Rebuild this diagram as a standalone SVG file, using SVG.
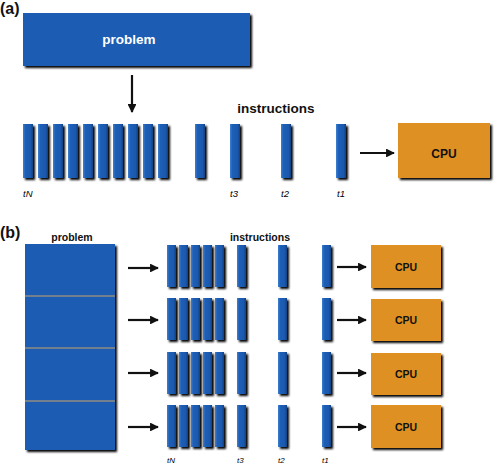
<svg xmlns="http://www.w3.org/2000/svg" width="498" height="465" viewBox="0 0 498 465">
<defs>
<filter id="sh" x="-20%" y="-20%" width="160%" height="160%">
<feGaussianBlur in="SourceAlpha" stdDeviation="1"/>
<feOffset dx="2" dy="2" result="o"/>
<feComponentTransfer><feFuncA type="linear" slope="1"/></feComponentTransfer>
<feMerge><feMergeNode/><feMergeNode in="SourceGraphic"/></feMerge>
</filter>
<linearGradient id="bar" x1="0" y1="0" x2="1" y2="0">
<stop offset="0" stop-color="#3f7fd0"/>
<stop offset="0.25" stop-color="#1f5fb6"/>
<stop offset="0.75" stop-color="#1b58ad"/>
<stop offset="1" stop-color="#10407f"/>
</linearGradient>
<marker id="ah" viewBox="0 0 10 10" refX="9" refY="5" markerWidth="4" markerHeight="4" orient="auto" markerUnits="strokeWidth">
<path d="M0,0 L10,5 L0,10 z" fill="#111"/>
</marker>
<g id="barA"><rect width="10" height="54" fill="url(#bar)" filter="url(#sh)"/></g>
<g id="barB"><rect width="9" height="42" fill="url(#bar)" filter="url(#sh)"/></g>
<g id="barsB">
<use href="#barB" x="167"/><use href="#barB" x="179"/><use href="#barB" x="191"/><use href="#barB" x="203"/><use href="#barB" x="215"/>
<use href="#barB" x="237"/><use href="#barB" x="278"/><use href="#barB" x="322"/>
</g>
</defs>
<style>
.blue{fill:#1d5db3}
.cpu{fill:#de9022}
.lbl{font-family:"Liberation Sans",Arial,sans-serif;font-weight:bold;text-anchor:middle}
.w{fill:#fff}
.k{fill:#111}
.t{font-family:"Liberation Sans",Arial,sans-serif;font-style:italic;fill:#000}
.arr{stroke:#111;stroke-width:2.2;fill:none;marker-end:url(#ah)}
</style>
<rect width="498" height="465" fill="#fff"/>

<text x="0" y="14" class="lbl k" style="text-anchor:start" font-size="16">(a)</text>
<text x="0" y="238" class="lbl k" style="text-anchor:start" font-size="16">(b)</text>

<g id="problemA">
<rect x="23" y="13" width="227" height="53" class="blue" filter="url(#sh)"/>
<text x="129" y="44" class="lbl w" font-size="13.5">problem</text>
</g>

<g id="instructionsA">
<text x="276" y="113" class="lbl k" font-size="13.5">instructions</text>
<use href="#barA" x="23" y="124"/><use href="#barA" x="38" y="124"/><use href="#barA" x="53" y="124"/><use href="#barA" x="68" y="124"/><use href="#barA" x="83" y="124"/>
<use href="#barA" x="98" y="124"/><use href="#barA" x="113" y="124"/><use href="#barA" x="128" y="124"/><use href="#barA" x="143" y="124"/><use href="#barA" x="158" y="124"/>
<use href="#barA" x="195" y="124"/><use href="#barA" x="230" y="124"/><use href="#barA" x="281" y="124"/><use href="#barA" x="336" y="124"/>
<text x="23" y="197" class="t" font-size="9.5">tN</text>
<text x="230" y="197" class="t" font-size="9.5">t3</text>
<text x="281" y="197" class="t" font-size="9.5">t2</text>
<text x="337" y="197" class="t" font-size="9.5">t1</text>
</g>

<g id="cpuA">
<rect x="398" y="123" width="92" height="55" class="cpu" filter="url(#sh)"/>
<text x="444" y="158" class="lbl k" font-size="12">CPU</text>
</g>

<g id="problemB">
<rect x="25" y="244" width="90" height="206" class="blue" filter="url(#sh)"/>
<line x1="25" y1="296" x2="115" y2="296" stroke="#c9a36a" stroke-width="1"/>
<line x1="25" y1="348" x2="115" y2="348" stroke="#c9a36a" stroke-width="1"/>
<line x1="25" y1="401" x2="115" y2="401" stroke="#c9a36a" stroke-width="1"/>
<text x="72" y="241" class="lbl k" font-size="10.5">problem</text>
</g>

<g id="instructionsB">
<text x="260" y="241" class="lbl k" font-size="10.5">instructions</text>
<use href="#barsB" y="245"/>
<use href="#barsB" y="298"/>
<use href="#barsB" y="352"/>
<use href="#barsB" y="405"/>
<text x="167" y="463" class="t" font-size="8">tN</text>
<text x="237" y="463" class="t" font-size="8">t3</text>
<text x="278" y="463" class="t" font-size="8">t2</text>
<text x="322" y="463" class="t" font-size="8">t1</text>
</g>

<g id="cpuB1"><rect x="371" y="245" width="70" height="43" class="cpu" filter="url(#sh)"/><text x="406" y="271" class="lbl k" font-size="10.5">CPU</text></g>
<g id="cpuB2"><rect x="371" y="299" width="70" height="42" class="cpu" filter="url(#sh)"/><text x="406" y="324" class="lbl k" font-size="10.5">CPU</text></g>
<g id="cpuB3"><rect x="371" y="353" width="70" height="42" class="cpu" filter="url(#sh)"/><text x="406" y="378" class="lbl k" font-size="10.5">CPU</text></g>
<g id="cpuB4"><rect x="371" y="405" width="70" height="43" class="cpu" filter="url(#sh)"/><text x="406" y="431" class="lbl k" font-size="10.5">CPU</text></g>

<g id="connectors">
<line x1="132" y1="75" x2="132" y2="112" class="arr"/>
<line x1="360" y1="153" x2="394" y2="153" class="arr"/>
<line x1="128" y1="268" x2="158" y2="268" class="arr"/>
<line x1="128" y1="320" x2="158" y2="320" class="arr"/>
<line x1="128" y1="373" x2="158" y2="373" class="arr"/>
<line x1="128" y1="427" x2="158" y2="427" class="arr"/>
<line x1="337" y1="267" x2="366" y2="267" class="arr"/>
<line x1="337" y1="320" x2="366" y2="320" class="arr"/>
<line x1="337" y1="373" x2="366" y2="373" class="arr"/>
<line x1="337" y1="427" x2="366" y2="427" class="arr"/>
</g>
</svg>
